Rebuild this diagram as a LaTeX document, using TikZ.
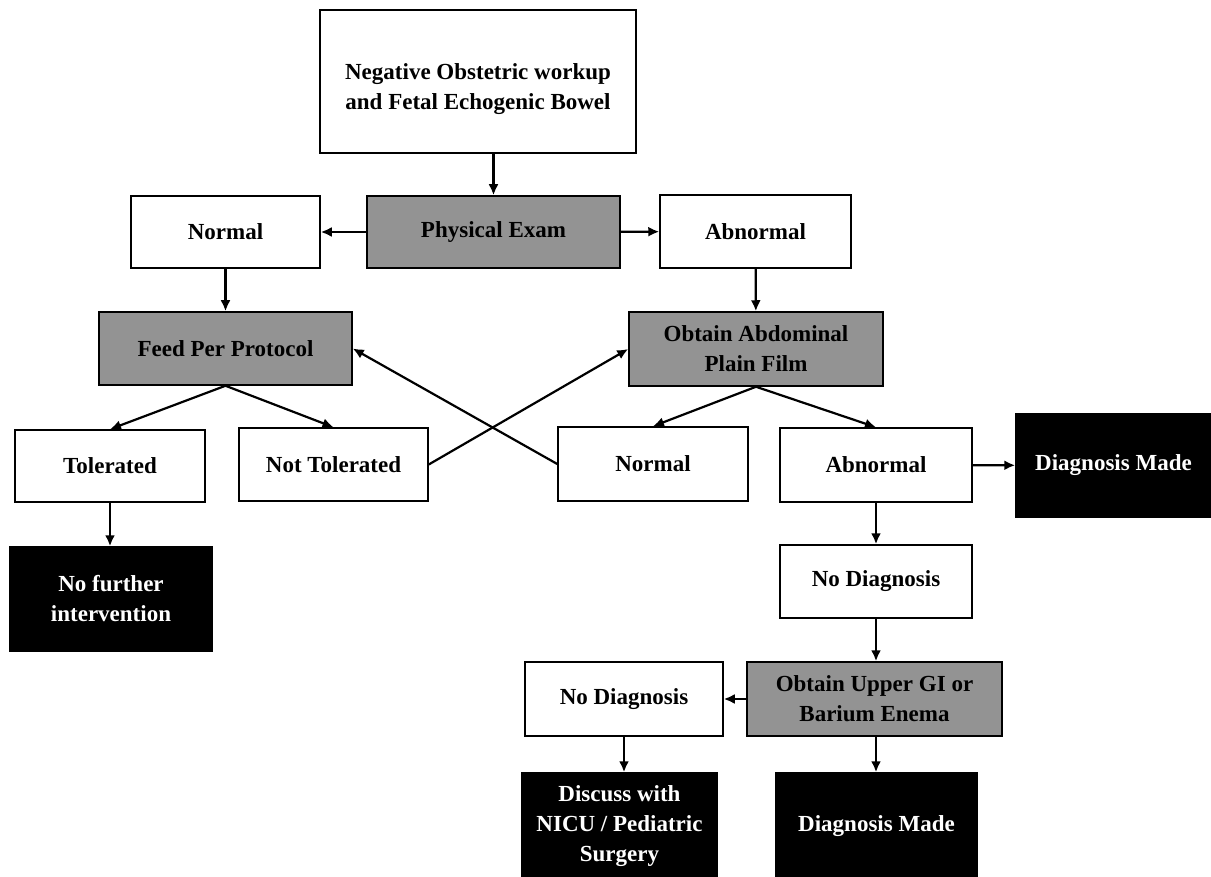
\documentclass[tikz,border=0pt]{standalone}
\usepackage{fontspec}
\setmainfont{Liberation Serif}
\usetikzlibrary{arrows.meta}
\usetikzlibrary{positioning}

\definecolor{boxgray}{HTML}{939393}

\begin{document}
\begin{tikzpicture}[x=1pt,y=-1pt,
    font=\fontsize{23}{30}\selectfont\bfseries,
    box/.style={draw,line width=1.5pt,align=center,inner sep=2pt},
    wbox/.style={box,fill=white},
    gbox/.style={box,fill=boxgray},
    kbox/.style={box,fill=black,text=white},
    arr/.style={-{Latex[length=11pt,width=10pt]},line width=2.2pt}]
        \useasboundingbox (0,0) rectangle (1211,877);

        % first row
        \node[wbox,minimum width=316pt,minimum height=143pt] (top) at (478,81.5) {};
        \node[align=center] (toptext) at ([yshift=-8pt]top.center)
        {Negative Obstetric workup\\and Fetal Echogenic Bowel};
        \node[gbox,minimum width=253pt,minimum height=72pt] (exam) at (493.5,232) {Physical Exam};
        \node[wbox,minimum width=189pt,minimum height=72pt] (normA) at (225.5,232) {Normal};
        \node[wbox,minimum width=191pt,minimum height=73pt] (abnA) at (755.5,231.5) {Abnormal};

        % second row
        \node[gbox,minimum width=253pt,minimum height=73pt] (feed) at (225.5,348.5) {Feed Per Protocol};
        \node[gbox,minimum width=254pt,minimum height=74pt] (film) at (756,349)
        {Obtain Abdominal\\Plain Film};

        % third row
        \node[wbox,minimum width=190pt,minimum height=72pt] (tol) at (110,466) {Tolerated};
        \node[wbox,minimum width=189pt,minimum height=73pt] (nottol) at (333.5,464.5) {Not Tolerated};
        \node[wbox,minimum width=190pt,minimum height=74pt] (normB) at (653,464) {Normal};
        \node[wbox,minimum width=192pt,minimum height=74pt] (abnB) at (876,465) {Abnormal};
        \node[kbox,minimum width=195pt,minimum height=103pt] (dxA) at (1113.5,465.5) {Diagnosis Made};

        % lower part
        \node[kbox,minimum width=202pt,minimum height=104pt] (nofurther) at (111,599)
        {No further\\intervention};
        \node[wbox,minimum width=192pt,minimum height=73pt] (nodxA) at (876,581.5) {No Diagnosis};
        \node[gbox,minimum width=255pt,minimum height=74pt] (upper) at (874.5,699)
        {Obtain Upper GI or\\Barium Enema};
        \node[wbox,minimum width=198pt,minimum height=74pt] (nodxB) at (624,699) {No Diagnosis};
        \node[kbox,minimum width=195pt,minimum height=106pt] (discuss) at (619.5,826)
        {Discuss with\\NICU / Pediatric\\Surgery};
        \node[kbox,minimum width=201pt,minimum height=106pt] (dxB) at (876.5,826) {Diagnosis Made};

        \draw[arr] (top.south -| exam) -- (exam);
        \draw[arr] (exam) -- (normA);
        \draw[arr] (exam) -- (abnA);
        \draw[arr] (normA) -- (feed);
        \draw[arr] (abnA) -- (film);
        \draw[arr] (feed.south) -- (tol.north);
        \draw[arr] (feed.south) -- (nottol.north);
        \draw[arr] (film.south) -- (normB.north);
        \draw[arr] (film.south) -- (abnB.north);
        \draw[arr] (nottol.east) -- (film.west);
        \draw[arr] (normB.west) -- (feed.east);
        \draw[arr] (tol.south) -- (tol.south |- nofurther.north);
        \draw[arr] (abnB) -- (dxA);
        \draw[arr] (abnB) -- (nodxA);
        \draw[arr] (nodxA.south) -- (nodxA.south |- upper.north);
        \draw[arr] (upper) -- (nodxB);
        \draw[arr] (nodxB.south) -- (nodxB.south |- discuss.north);
        \draw[arr] (upper.south -| nodxA) -- (nodxA |- dxB.north);
    \end{tikzpicture}
\end{document}
